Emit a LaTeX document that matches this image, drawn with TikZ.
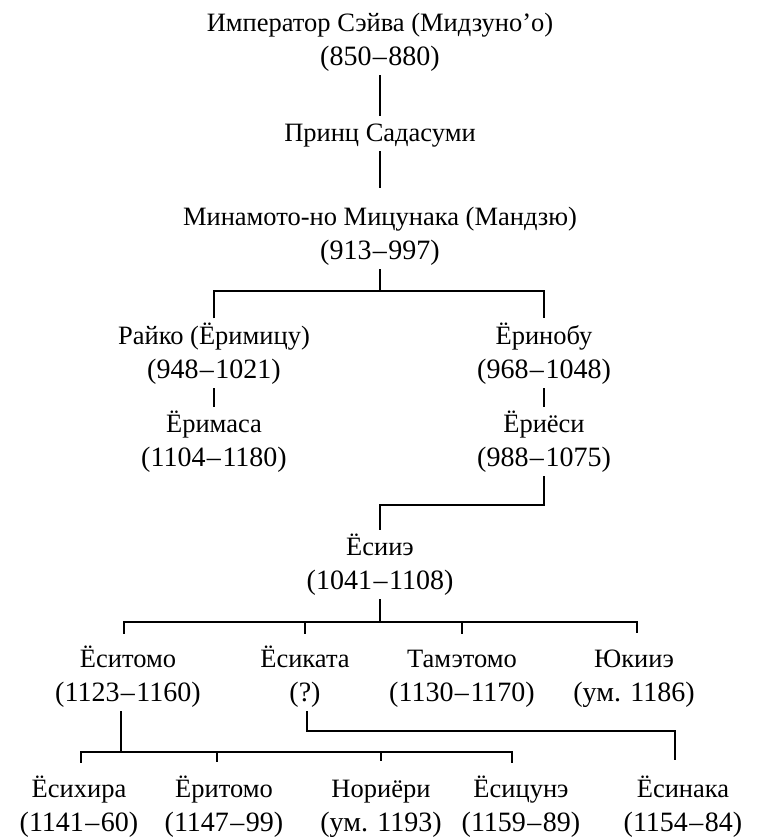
\documentclass[tikz,border=0pt]{standalone}
\usepackage{fontspec}
\setmainfont{Liberation Serif}
\newcommand\nmfont{\fontsize{26.5}{34}\selectfont}
\newcommand\dtfont{\fontsize{28}{34}\selectfont}
\newcommand\dd{\kern1.5pt–\kern1.5pt}
\newcommand\pers[2]{\nmfont\vphantom{Ё(}#1\\\dtfont\vphantom{(}#2}
\begin{document}
\begin{tikzpicture}[x=1pt,y=-1pt,
  person/.style={align=center, inner sep=0pt, outer sep=4pt, font=\nmfont},
  link/.style={line width=1.7pt}]
\useasboundingbox (0,0) rectangle (757,837);
% generation nodes
\node[person] (seiwa) at (380,40.25) {\pers{Император Сэйва (Мидзуно’о)}{(850\dd880)}};
\node[person] (sadasumi) at (380,133.4) {\nmfont\vphantom{Ё(}Принц Садасуми};
\node[person] (mitsunaka) at (380,234.25) {\pers{Минамото-но Мицунака (Мандзю)}{(913\dd997)}};
\node[person] (raiko) at (214,353.25) {\pers{Райко (Ёримицу)}{(948\dd1021)}};
\node[person] (yorinobu) at (544,353.25) {\pers{Ёринобу}{(968\dd1048)}};
\node[person] (yorimasa) at (214,441.25) {\pers{Ёримаса}{(1104\dd1180)}};
\node[person] (yoriyoshi) at (544,441.25) {\pers{Ёриёси}{(988\dd1075)}};
\node[person] (yoshiie) at (380,564.25) {\pers{Ёсииэ}{(1041\dd1108)}};
\node[person] (yoshitomo) at (128,676.25) {\pers{Ёситомо}{(1123\dd1160)}};
\node[person] (yoshikata) at (305,676.25) {\pers{Ёсиката}{(?)}};
\node[person] (tametomo) at (462,676.25) {\pers{Тамэтомо}{(1130\dd1170)}};
\node[person] (yukiie) at (634,676.25) {\pers{Юкииэ}{(ум. 1186)}};
\node[person] (yoshihira) at (79,806.25) {\pers{Ёсихира}{(1141\dd60)}};
\node[person] (yoritomo) at (224,806.25) {\pers{Ёритомо}{(1147\dd99)}};
\node[person] (noriyori) at (381,806.25) {\pers{Нориёри}{(ум. 1193)}};
\node[person] (yoshitsune) at (521,806.25) {\pers{Ёсицунэ}{(1159\dd89)}};
\node[person] (yoshinaka) at (683,806.25) {\pers{Ёсинака}{(1154\dd84)}};
% bus coordinates
\coordinate (b1) at (380,291);
\coordinate (b2) at (465,505);
\coordinate (b3) at (380,622);
\coordinate (b4) at (300,752);
\coordinate (b5) at (500,731);
% connectors
\draw[link] (seiwa.south) -- (sadasumi.north);
\draw[link] (sadasumi.south) -- ([yshift=11pt]mitsunaka.north);
\draw[link] (mitsunaka.south) -- (b1);
\draw[link] (raiko.north) |- (b1) -| (yorinobu.north);
\draw[link] (raiko.south) -- (yorimasa.north);
\draw[link] (yorinobu.south) -- (yoriyoshi.north);
\draw[link] (yoriyoshi.south) |- (b2) -| (yoshiie.north);
\draw[link] (yoshiie.south) -- (b3);
\draw[link] ([xshift=-4pt,yshift=8pt]yoshitomo.north) |- (b3) -| ([xshift=3pt,yshift=8pt]yukiie.north);
\draw[link] (yoshikata.north |- b3) -- ([yshift=8pt]yoshikata.north);
\draw[link] (tametomo.north |- b3) -- ([yshift=8pt]tametomo.north);
\draw[link] ([xshift=-7pt]yoshitomo.south) -- ([xshift=-7pt]yoshitomo.south |- b4);
\draw[link] ([xshift=2pt,yshift=9pt]yoshihira.north) |- (b4) -| ([xshift=-9pt,yshift=9pt]yoshitsune.north);
\draw[link] ([xshift=-7pt]yoritomo.north |- b4) -- ([xshift=-7pt,yshift=10pt]yoritomo.north);
\draw[link] (noriyori.north |- b4) -- ([yshift=10pt]noriyori.north);
\draw[link] ([xshift=2pt]yoshikata.south) |- (b5) -| ([xshift=-8pt,yshift=12pt]yoshinaka.north);
\end{tikzpicture}
\end{document}
